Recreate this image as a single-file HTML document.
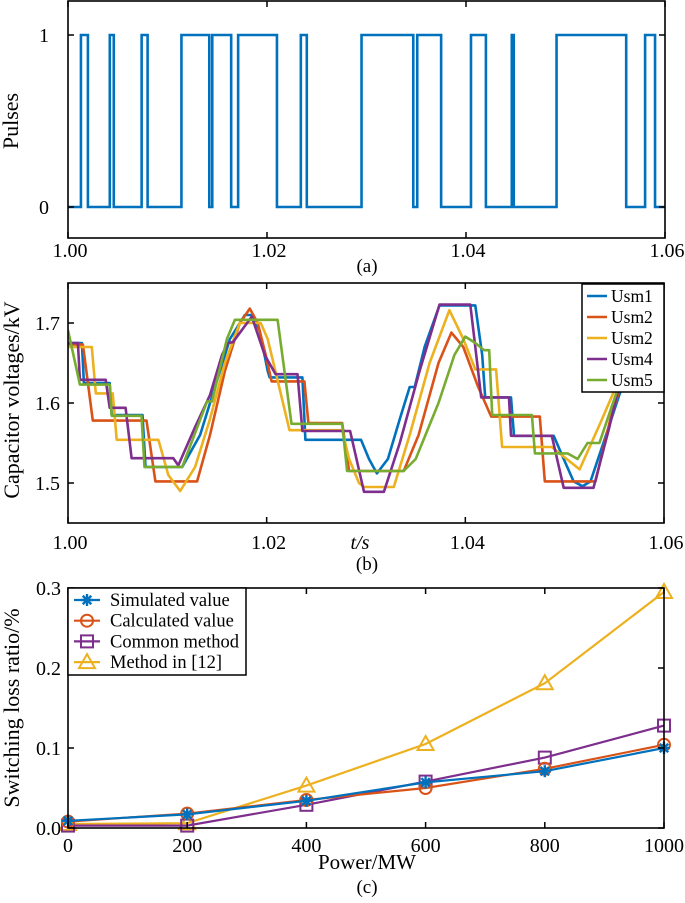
<!DOCTYPE html>
<html><head><meta charset="utf-8">
<style>
html,body{margin:0;padding:0;background:#fff;}
svg{display:block;font-family:"Liberation Serif",serif;}
</style></head>
<body>
<svg id="fig" width="685" height="903" viewBox="0 0 685 903" xmlns="http://www.w3.org/2000/svg"></svg>
<script>
// ---------- Panel (a) data ----------
const pulseEdges = [1.0013,1.0020,1.0042,1.0046,1.0074,1.0080,1.0114,1.0142,1.0145,1.0164,1.0171,1.0210,1.0234,1.0240,1.0295,1.0347,1.0351,1.0375,1.0405,1.0420,1.0446,1.0448,1.0491,1.0561,1.0580,1.0590];
const pulseStart = 0;
const aXTicks = [1.00,1.02,1.04,1.06];
const aXLabels = ["1.00","1.02","1.04","1.06"];
const aYTicks = [0,1];
const aYLabels = ["0","1"];

// ---------- Panel (b) data ----------
const bNames = ["Usm1","Usm2","Usm2","Usm4","Usm5"];
const bColors = ["#0072BD","#D95319","#EDB120","#7E2F8E","#77AC30"];
const usm1T = [1.0000,1.0014,1.0016,1.0042,1.0044,1.0075,1.0078,1.0115,1.0133,1.0148,1.0163,1.0178,1.0186,1.0193,1.0201,1.0203,1.0236,1.0239,1.0295,1.0303,1.0311,1.0322,1.0334,1.0344,1.0349,1.0359,1.0374,1.0410,1.0417,1.0420,1.0446,1.0449,1.0489,1.0499,1.0509,1.0518,1.0526,1.0539,1.0555,1.0575];
const usm1V = [1.675,1.675,1.625,1.625,1.585,1.585,1.520,1.520,1.560,1.620,1.680,1.710,1.710,1.690,1.640,1.632,1.632,1.554,1.554,1.530,1.512,1.530,1.580,1.620,1.620,1.670,1.722,1.722,1.660,1.607,1.607,1.559,1.559,1.530,1.502,1.496,1.502,1.550,1.610,1.680];
const usm2T = [1.0000,1.0015,1.0025,1.0079,1.0088,1.0130,1.0143,1.0158,1.0173,1.0183,1.0191,1.0199,1.0205,1.0238,1.0242,1.0276,1.0283,1.0338,1.0353,1.0373,1.0386,1.0398,1.0413,1.0426,1.0475,1.0480,1.0531,1.0546,1.0566];
const usm2V = [1.673,1.673,1.578,1.578,1.502,1.502,1.560,1.640,1.700,1.718,1.700,1.660,1.627,1.627,1.575,1.575,1.515,1.515,1.560,1.650,1.688,1.670,1.620,1.583,1.583,1.502,1.502,1.580,1.660];
const usm3T = [1.0000,1.0024,1.0028,1.0045,1.0049,1.0091,1.0101,1.0113,1.0128,1.0143,1.0158,1.0173,1.0194,1.0201,1.0223,1.0276,1.0283,1.0293,1.0298,1.0328,1.0344,1.0364,1.0384,1.0398,1.0410,1.0431,1.0437,1.0487,1.0515,1.0537,1.0555,1.0575];
const usm3V = [1.670,1.670,1.612,1.612,1.554,1.554,1.510,1.490,1.520,1.580,1.650,1.700,1.700,1.680,1.566,1.566,1.530,1.500,1.495,1.495,1.560,1.650,1.716,1.680,1.642,1.642,1.545,1.545,1.517,1.578,1.630,1.700];
const usm4T = [1.0000,1.0010,1.0012,1.0038,1.0042,1.0058,1.0064,1.0106,1.0111,1.0128,1.0143,1.0155,1.0161,1.0166,1.0185,1.0198,1.0209,1.0231,1.0236,1.0284,1.0298,1.0310,1.0318,1.0334,1.0354,1.0374,1.0405,1.0410,1.0416,1.0444,1.0446,1.0487,1.0499,1.0529,1.0545,1.0560];
const usm4V = [1.675,1.675,1.629,1.629,1.594,1.594,1.531,1.531,1.522,1.570,1.610,1.660,1.675,1.676,1.708,1.660,1.636,1.636,1.565,1.565,1.489,1.489,1.489,1.550,1.640,1.723,1.723,1.670,1.607,1.607,1.559,1.559,1.494,1.494,1.570,1.650];
const usm5T = [1.0000,1.0012,1.0014,1.0042,1.0044,1.0074,1.0077,1.0115,1.0140,1.0145,1.0160,1.0168,1.0211,1.0225,1.0276,1.0281,1.0338,1.0350,1.0373,1.0389,1.0400,1.0410,1.0419,1.0424,1.0427,1.0467,1.0470,1.0503,1.0513,1.0523,1.0535,1.0553,1.0575];
const usm5V = [1.691,1.623,1.623,1.623,1.584,1.584,1.520,1.520,1.602,1.602,1.680,1.704,1.704,1.574,1.574,1.515,1.515,1.530,1.600,1.660,1.683,1.675,1.666,1.666,1.585,1.585,1.537,1.537,1.530,1.550,1.550,1.616,1.700];
const bXTicks = [1.00,1.02,1.04,1.06];
const bXLabels = ["1.00","1.02","1.04","1.06"];
const bYTicks = [1.5,1.6,1.7];
const bYLabels = ["1.5","1.6","1.7"];

// ---------- Panel (c) data ----------
const powerMW = [0,200,400,600,800,1000];
const simulatedVal = [0.009,0.017,0.034,0.057,0.071,0.100];
const calculatedVal = [0.008,0.018,0.035,0.050,0.074,0.104];
const commonMethod = [0.003,0.003,0.029,0.058,0.088,0.128];
const method12 = [0.005,0.006,0.053,0.105,0.181,0.295];
const cSeriesNames = ["Simulated value","Calculated value","Common method","Method in [12]"];
const cXLabels = ["0","200","400","600","800","1000"];
const cYTicks = [0,0.1,0.2,0.3];
const cYLabels = ["0.0","0.1","0.2","0.3"];

const NS="http://www.w3.org/2000/svg";
const svg=document.getElementById('fig');
function mk(tag,attrs,parent){const e=document.createElementNS(NS,tag);for(const k in attrs)e.setAttribute(k,attrs[k]);(parent||svg).appendChild(e);return e;}
function txt(s,x,y,anchor,size,parent,extra){const t=mk('text',Object.assign({x:x,y:y,'text-anchor':anchor,'font-size':size,fill:'#000'},extra||{}),parent);t.textContent=s;return t;}
const TICK=20, TITLE=22;

// ===== Panel A =====
const aL=68,aR=665,aT=1,aB=238;
const ax=t=>aL+(t-1.0)/0.06*(aR-aL);
const ay=v=>207-v*172;
const gA=mk('g',{});


let d='M'+ax(1.0)+','+ay(pulseStart);let cur=pulseStart;
for(const t of pulseEdges){d+=' L'+ax(t)+','+ay(cur);cur=1-cur;d+=' L'+ax(t)+','+ay(cur);}
d+=' L'+ax(1.06)+','+ay(cur);
const pl=mk('path',{d:d,fill:'none',stroke:'#0072BD','stroke-width':2.6},gA);


const boxA=mk('rect',{x:aL,y:aT,width:aR-aL,height:aB-aT,fill:'none',stroke:'#000','stroke-width':1.6},gA);


aXTicks.forEach((t,i)=>{const x=ax(t);mk('line',{x1:x,x2:x,y1:aB,y2:aB-6,stroke:'#000','stroke-width':1.5},gA);mk('line',{x1:x,x2:x,y1:aT,y2:aT+6,stroke:'#000','stroke-width':1.5},gA);
 const l=txt(aXLabels[i],x+2,257,'middle',TICK,gA);});
aYTicks.forEach((v,i)=>{const y=ay(v);mk('line',{x1:aL,x2:aL+6,y1:y,y2:y,stroke:'#000','stroke-width':1.5},gA);mk('line',{x1:aR,x2:aR-6,y1:y,y2:y,stroke:'#000','stroke-width':1.5},gA);
 const l=txt(aYLabels[i],49,y+7,'end',TICK,gA);});
let t1=txt('Pulses',0,0,'middle',TITLE,gA,{transform:'translate(18,121) rotate(-90)'});
let c1=txt('(a)',367,272,'middle',19,gA);

// ===== Panel B =====
const bL=68,bR=664,bT=283,bB=523;
const bx=t=>bL+(t-1.0)/0.06*(bR-bL);
const by=v=>bT+(1.75-v)/0.30*(bB-bT);
const gB=mk('g',{});


const clip=mk('clipPath',{id:'clipB'},gB);mk('rect',{x:bL,y:bT,width:bR-bL,height:bB-bT},clip);
const bTs=[usm1T,usm2T,usm3T,usm4T,usm5T],bVs=[usm1V,usm2V,usm3V,usm4V,usm5V];
bTs.forEach((T,si)=>{const V=bVs[si];let p='';T.forEach((t,i)=>{p+=(i?' L':'M')+bx(t).toFixed(1)+','+by(V[i]).toFixed(1);});
 const ln=mk('path',{d:p,fill:'none',stroke:bColors[si],'stroke-width':2.6,'stroke-linejoin':'round','clip-path':'url(#clipB)'},gB);
 
 });
const boxB=mk('rect',{x:bL,y:bT,width:bR-bL,height:bB-bT,fill:'none',stroke:'#000','stroke-width':1.6},gB);


bXTicks.forEach((t,i)=>{const x=bx(t);mk('line',{x1:x,x2:x,y1:bB,y2:bB-6,stroke:'#000','stroke-width':1.5},gB);mk('line',{x1:x,x2:x,y1:bT,y2:bT+6,stroke:'#000','stroke-width':1.5},gB);
 const l=txt(bXLabels[i],x+2,549,'middle',TICK,gB);});
bYTicks.forEach((v,i)=>{const y=by(v);mk('line',{x1:bL,x2:bL+6,y1:y,y2:y,stroke:'#000','stroke-width':1.5},gB);mk('line',{x1:bR,x2:bR-6,y1:y,y2:y,stroke:'#000','stroke-width':1.5},gB);
 const l=txt(bYLabels[i],60,y+7,'end',TICK,gB);});
let t2=txt('Capacitor voltages/kV',0,0,'middle',TITLE,gB,{transform:'translate(19,400) rotate(-90)'});
let xs=txt('t/s',360,549,'middle',20,gB,{'font-style':'italic'});
let c2=txt('(b)',367,570,'middle',19,gB);
const legB=mk('g',{},gB);


mk('rect',{x:582,y:284,width:82,height:108,fill:'#fff',stroke:'#000','stroke-width':1.5},legB);
bNames.forEach((n,i)=>{const y=296+i*21;mk('line',{x1:587,x2:607,y1:y,y2:y,stroke:bColors[i],'stroke-width':2.6},legB);
 const l=txt(n,611,y+6,'start',17.5,legB);});

// ===== Panel C =====
const cL=68,cR=664,cT=588,cB=828;
const cx=p=>cL+p/1000*(cR-cL);
const cy=v=>cB-v/0.3*(cB-cT);
const gC=mk('g',{});


const cData=[simulatedVal,calculatedVal,commonMethod,method12];
const cCols=["#0072BD","#D95319","#7E2F8E","#EDB120"];
function marker(kind,x,y,col,g){
 if(kind===0){for(let a=0;a<4;a++){const an=a*Math.PI/4;mk('line',{x1:x-6*Math.cos(an),y1:y-6*Math.sin(an),x2:x+6*Math.cos(an),y2:y+6*Math.sin(an),stroke:col,'stroke-width':2.4},g);}}
 else if(kind===1){mk('circle',{cx:x,cy:y,r:6,fill:'none',stroke:col,'stroke-width':2},g);}
 else if(kind===2){mk('rect',{x:x-6,y:y-6,width:12,height:12,fill:'none',stroke:col,'stroke-width':2},g);}
 else {mk('path',{d:`M${x},${y-8} L${x+8},${y+6} L${x-8},${y+6} Z`,fill:'none',stroke:col,'stroke-width':2},g);}
}
[3,2,1,0].forEach(si=>{const vals=cData[si];const g=mk('g',{},gC);
 
 
 let p='';powerMW.forEach((pw,i)=>{p+=(i?' L':'M')+cx(pw)+','+cy(vals[i]);});
 mk('path',{d:p,fill:'none',stroke:cCols[si],'stroke-width':2.2},g);
 powerMW.forEach((pw,i)=>marker(si,cx(pw),cy(vals[i]),cCols[si],g));});
const boxC=mk('rect',{x:cL,y:cT,width:cR-cL,height:cB-cT,fill:'none',stroke:'#000','stroke-width':1.6},gC);


powerMW.forEach((pw,i)=>{const x=cx(pw);mk('line',{x1:x,x2:x,y1:cB,y2:cB-6,stroke:'#000','stroke-width':1.5},gC);mk('line',{x1:x,x2:x,y1:cT,y2:cT+6,stroke:'#000','stroke-width':1.5},gC);
 const l=txt(cXLabels[i],x,852,'middle',TICK,gC);});
cYTicks.forEach((v,i)=>{const y=cy(v);mk('line',{x1:cL,x2:cL+6,y1:y,y2:y,stroke:'#000','stroke-width':1.5},gC);mk('line',{x1:cR,x2:cR-6,y1:y,y2:y,stroke:'#000','stroke-width':1.5},gC);
 const l=txt(cYLabels[i],61,y+7,'end',TICK,gC);});
let t3=txt('Switching loss ratio/%',0,0,'middle',TITLE,gC,{transform:'translate(19,708) rotate(-90)'});
let xt3=txt('Power/MW',367,869,'middle',21,gC);
let c3=txt('(c)',367,893,'middle',19,gC);
const legC=mk('g',{},gC);


mk('rect',{x:68,y:588,width:178,height:87,fill:'#fff',stroke:'#000','stroke-width':1.5},legC);
cSeriesNames.forEach((n,i)=>{const y=600+i*20.7;mk('line',{x1:74,x2:100,y1:y,y2:y,stroke:cCols[i],'stroke-width':2.2},legC);marker(i,87,y,cCols[i],legC);
 const l=txt(n,110,y+6,'start',18.5,legC);});
</script>
</body></html>
